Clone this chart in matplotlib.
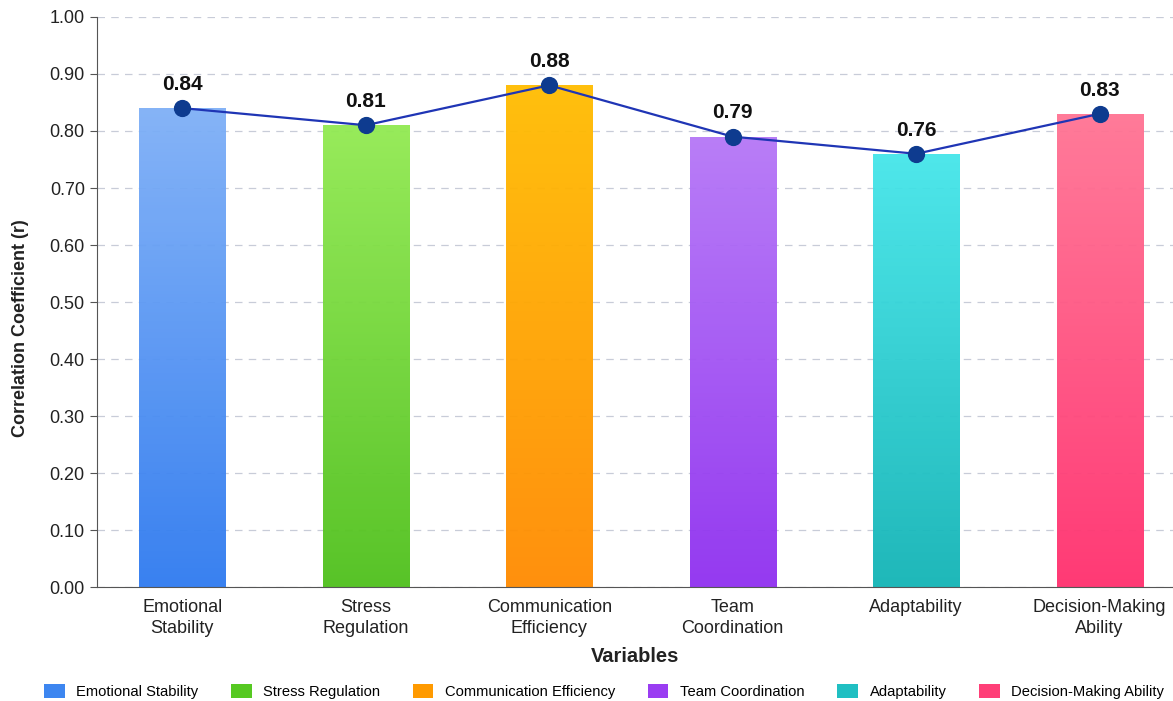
import matplotlib
matplotlib.use("Agg")
import matplotlib.pyplot as plt
import numpy as np
from matplotlib.colors import LinearSegmentedColormap
from matplotlib.patches import Patch

plt.rcParams['font.family'] = ['Liberation Sans', 'DejaVu Sans']

categories = ["Emotional\nStability", "Stress\nRegulation", "Communication\nEfficiency",
              "Team\nCoordination", "Adaptability", "Decision-Making\nAbility"]
legend_names = ["Emotional Stability", "Stress Regulation", "Communication Efficiency",
                "Team Coordination", "Adaptability", "Decision-Making Ability"]
values = [0.84, 0.81, 0.88, 0.79, 0.76, 0.83]
top_colors = ["#7fb0f7", "#92ea52", "#ffbd00", "#b577f7", "#45e6ea", "#ff7494"]
bottom_colors = ["#2e7af0", "#4fc01c", "#ff8a00", "#8f2ff0", "#13b4b6", "#ff2f6e"]
legend_colors = ["#3d86f0", "#56c922", "#ff9a00", "#9a3df2", "#20bfc2", "#ff3f78"]

fig = plt.figure(figsize=(11.73, 7.01), dpi=100)
ax = fig.add_axes([0.083, 0.162, 0.917, 0.814])

x = np.arange(len(categories))
bars = ax.bar(x, values, width=0.47, color='none', edgecolor='none', zorder=2)
for b, tc, bc in zip(bars, top_colors, bottom_colors):
    cmap = LinearSegmentedColormap.from_list("g", [bc, tc])
    grad = np.linspace(0, 1, 256).reshape(-1, 1)
    x0, y0 = b.get_x(), b.get_y()
    w, h = b.get_width(), b.get_height()
    im = ax.imshow(grad, cmap=cmap, extent=[x0, x0 + w, y0, y0 + h], origin='lower',
                   aspect='auto', zorder=2, alpha=0.95)
    im.set_clip_path(b)

ax.plot(x, values, color="#1f35b5", lw=1.6, zorder=3)
ax.scatter(x, values, s=130, color="#0e3b8f", zorder=4)
for xi, v in zip(x, values):
    ax.text(xi, v + 0.025, f"{v:.2f}", ha='center', va='bottom', fontsize=15,
            fontweight='bold', color='#111111', zorder=5)

ax.set_xlim(-0.463, 5.40)
ax.set_ylim(0, 1.0)
ax.set_yticks(np.arange(0, 1.01, 0.1))
ax.set_yticklabels([f"{t:.2f}" for t in np.arange(0, 1.01, 0.1)], fontsize=13, color='#222222')
ax.set_xticks(x)
ax.set_xticklabels(categories, fontsize=13, color='#222222', linespacing=1.35)
ax.tick_params(axis='x', length=0, pad=8)
ax.tick_params(axis='y', length=5, color='#555555', pad=4)
ax.grid(axis='y', linestyle=(0, (6, 5)), color='#c8ccd8', lw=0.9, zorder=0)
ax.set_axisbelow(True)
for s in ['top', 'right']:
    ax.spines[s].set_visible(False)
ax.spines['left'].set_color('#555555')
ax.spines['bottom'].set_color('#555555')
ax.set_ylabel("Correlation Coefficient (r)", fontsize=13, fontweight='bold', color='#222222')
ax.yaxis.set_label_coords(-0.064, 0.455)
ax.set_xlabel("Variables", fontsize=14.5, fontweight='bold', labelpad=7, color='#222222')

handles = [Patch(facecolor=c, edgecolor='none') for c in legend_colors]
fig.legend(handles, legend_names, loc='center', bbox_to_anchor=(0.515, 0.014), ncol=6,
           frameon=False, fontsize=10.6, handlelength=1.4, handleheight=1.1,
           columnspacing=2.2, handletextpad=0.8)

fig.savefig("out.png", dpi=100)
